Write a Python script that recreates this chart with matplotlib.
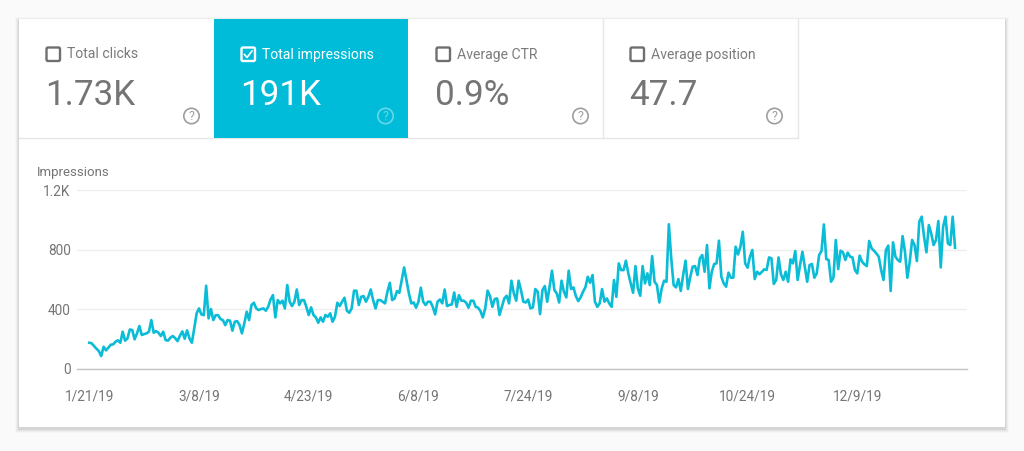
import matplotlib
matplotlib.use("Agg")
import matplotlib.pyplot as plt
from matplotlib.patches import Rectangle, FancyBboxPatch, Circle
import pandas as pd

plt.rcParams['font.family'] = ['Roboto', 'DejaVu Sans']

# daily impressions, starting 1/21/19
impressions = [
    176, 172, 154, 136, 120, 87, 149, 125, 143, 163, 165, 183, 192, 176, 250, 190,
    205, 265, 261, 199, 239, 288, 228, 234, 239, 250, 328, 243, 254, 243, 221, 250,
    194, 190, 210, 221, 207, 187, 223, 252, 203, 259, 205, 176, 272, 373, 406, 366,
    361, 558, 339, 402, 328, 361, 361, 335, 328, 294, 328, 324, 257,
    317, 321, 295, 239, 306, 384, 328, 429, 444, 406, 395, 402, 406, 391, 417, 466,
    495, 346, 462, 440, 458, 406, 563, 451, 422, 451, 533, 429, 462, 462, 417, 362,
    413, 362, 346, 310, 346, 317, 362, 350, 373, 317, 350, 444, 422, 451, 478, 391,
    377, 406, 525, 525, 429, 484, 489, 451, 484, 533, 462, 406, 462, 462,
    451, 440, 518, 578, 462, 473, 522, 511, 596, 681, 596, 507, 440, 446, 411, 451,
    545, 451, 429, 451, 451, 417, 366, 451, 466, 440, 533, 422, 429, 433, 513, 417,
    495, 458, 458, 444, 411, 458, 458, 417, 411, 388, 346, 406, 525, 489, 417, 469,
    473, 362, 417, 473, 491, 440, 592, 507, 458, 592, 529, 451,
    446, 466, 406, 413, 536, 518, 368, 529, 556, 451, 551, 659, 529, 507, 446, 592,
    518, 480, 659, 536, 547, 489, 455, 480, 518, 547, 618, 578, 630, 451, 417, 440,
    536, 451, 473, 440, 417, 596, 484, 708, 663, 663, 726, 641, 574, 511, 690, 540,
    491, 690, 574, 641, 563, 757, 585, 563, 446, 540, 592, 585, 970,
    742, 563, 547, 603, 523, 630, 726, 536, 619, 686, 690, 630, 742, 764, 652, 831,
    541, 652, 704, 708, 860, 619, 574, 552, 646, 612, 612, 820, 768, 820, 920, 708,
    679, 753, 798, 603, 652, 635, 652, 668, 664, 748, 742, 570, 597, 748, 635, 597,
    652, 585, 735, 708, 791, 597, 697, 786, 686, 585, 697, 704, 612,
    641, 764, 791, 969, 737, 731, 585, 612, 865, 670, 793, 782, 731, 780, 753, 748,
    664, 641, 760, 719, 702, 690, 858, 809, 793, 775, 753, 664, 597, 797, 827, 523,
    849, 753, 731, 719, 891, 786, 612, 719, 865, 831, 724, 987, 1021, 887, 782, 965,
    909, 831, 865, 992, 681, 954, 1021, 842, 831, 1021, 813,
]
dates = pd.date_range('2019-01-21', periods=len(impressions))
x_labels = ['1/21/19', '3/8/19', '4/23/19', '6/8/19', '7/24/19', '9/8/19', '10/24/19', '12/9/19']
y_ticks = [0, 400, 800, 1200]
y_labels = ['0', '400', '800', '1.2K']

card_titles = ['Total clicks', 'Total impressions', 'Average CTR', 'Average position']
card_values = ['1.73K', '191K', '0.9%', '47.7']

TEAL = '#00bcd8'
GREY = '#757575'

W, H = 1024, 451
fig = plt.figure(figsize=(W / 100, H / 100), dpi=100, facecolor='#fafafa')

# page layer in pixel coordinates
bg = fig.add_axes([0, 0, 1, 1])
bg.set_xlim(0, W)
bg.set_ylim(H, 0)
bg.axis('off')

# card shadow
for grow, alpha in [(4, 0.02), (3, 0.03), (2, 0.04), (1, 0.06)]:
    bg.add_patch(Rectangle((19 - grow, 19 - grow + 2), 986 + 2 * grow, 408 + 2 * grow,
                           fc='black', ec='none', alpha=alpha))
bg.add_patch(Rectangle((19, 19), 986, 408, fc='white', ec='none'))

# metric tiles
left_edges = [19, 214, 409, 603]
tile_w = [195, 194, 194, 194]
bg.add_patch(Rectangle((214, 19), 194, 119, fc=TEAL, ec='none', zorder=2))
bg.plot([19, 797], [138, 138], color='#e6e6e6', lw=1, zorder=1)
bg.plot([602.5, 602.5], [19, 138], color='#e6e6e6', lw=1, zorder=1)
bg.plot([797.5, 797.5], [19, 138], color='#e6e6e6', lw=1, zorder=1)

for i in range(4):
    on = i == 1
    c = 'white' if on else GREY
    x0 = left_edges[i] + 27
    bg.add_patch(FancyBboxPatch((x0 + 0.5, 47.5), 13.5, 13.5, boxstyle='round,pad=0,rounding_size=1.5',
                                fc='none', ec='white' if on else '#6f6f6f', lw=1.7, zorder=3))
    if on:
        bg.plot([x0 + 3.5, x0 + 6, x0 + 11], [54.5, 57.5, 51], color='white', lw=1.2, zorder=3)
    bg.text(x0 + 21, 53, card_titles[i], color='white' if on else '#7b7b7b', fontsize=10.05,
            ha='left', va='center_baseline', zorder=3)
    bg.text(x0 - 1, 105, card_values[i], color=c, fontsize=25.2, ha='left', va='baseline', zorder=3)
    hx = left_edges[i] + tile_w[i] - 22.5
    hc = '#66d7e8' if on else '#9e9e9e'
    bg.add_patch(Circle((hx, 116), 7.7, fc='none', ec=hc, lw=1.2, zorder=3))
    bg.text(hx, 116.5, '?', color=hc, fontsize=9, ha='center', va='center', zorder=3)

bg.text(37, 172.5, 'Impressions', color=GREY, fontsize=9.5, ha='left', va='center')

# chart
left, right, top, bottom = 77, 967, 190, 369
ax = fig.add_axes([left / W, 1 - bottom / H, (right - left) / W, (bottom - top) / H])
ax.patch.set_alpha(0)
ax.plot(dates, impressions, color='#0abcd6', lw=1.9, solid_joinstyle='round', zorder=3)

px_per_day = 2.385
t0 = dates[0]
ax.set_xlim(t0 - pd.Timedelta(days=(89.3 - left) / px_per_day),
            t0 + pd.Timedelta(days=(right - 89.3) / px_per_day))
ax.set_ylim(0, 1200)
ax.set_yticks(y_ticks, y_labels)
ax.set_xticks(pd.to_datetime(x_labels, format='%m/%d/%y'), x_labels)
ax.tick_params(length=0, labelcolor=GREY, labelsize=9.8)
ax.tick_params(axis='x', pad=15)
ax.tick_params(axis='y', pad=4.5)
ax.grid(True, axis='y', color='#eeeeee', lw=1)
ax.set_axisbelow(True)
for s in ['top', 'left', 'right']:
    ax.spines[s].set_visible(False)
ax.spines['bottom'].set_color('#c4c4c4')
ax.spines['bottom'].set_linewidth(1)

fig.savefig('out.png', dpi=100, facecolor=fig.get_facecolor())
